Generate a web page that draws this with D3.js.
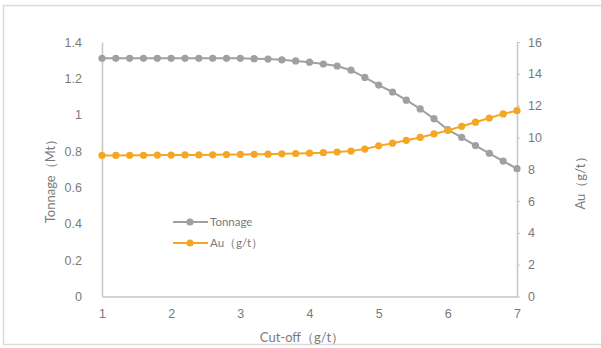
<!DOCTYPE html>
<html><head><meta charset="utf-8">
<script src="https://cdn.jsdelivr.net/npm/d3@7/dist/d3.min.js"></script>
<style>
body{margin:0;background:#fff;}
svg{display:block;font-family:Lato, "Liberation Sans", sans-serif;}
</style></head><body>
<svg id="c" width="601" height="348"></svg>
<script>
const cutoff = [1.0,1.2,1.4,1.6,1.8,2.0,2.2,2.4,2.6,2.8,3.0,3.2,3.4,3.6,3.8,4.0,4.2,4.4,4.6,4.8,5.0,5.2,5.4,5.6,5.8,6.0,6.2,6.4,6.6,6.8,7.0];
const tonnage = [1.31,1.31,1.31,1.31,1.31,1.31,1.31,1.31,1.31,1.31,1.31,1.308,1.306,1.302,1.296,1.289,1.279,1.268,1.245,1.205,1.163,1.125,1.08,1.032,0.978,0.918,0.875,0.83,0.788,0.745,0.703];
const au = [8.87,8.87,8.88,8.88,8.89,8.89,8.90,8.90,8.91,8.92,8.93,8.94,8.95,8.97,8.99,9.01,9.04,9.08,9.14,9.27,9.47,9.64,9.82,10.0,10.22,10.44,10.7,10.96,11.22,11.48,11.68];
const xTicks = [1,2,3,4,5,6,7];
const leftTicks = [0,0.2,0.4,0.6,0.8,1,1.2,1.4];
const rightTicks = [0,2,4,6,8,10,12,14,16];
const seriesNames = ["Tonnage","Au（g/t）"];
const xTitle = "Cut-off（g/t）", yLeftTitle = "Tonnage（Mt）", yRightTitle = "Au（g/t）";

const svg = d3.select("#c");
const grayC = "#a0a0a0", orangeC = "#f4a725", axisC = "#c9c5c5", textC = "#7a7a7a";
const L = 102, R = 517, T = 42, B = 296.5;

svg.append("rect").attr("x",3.5).attr("y",5.5).attr("width",640).attr("height",339)
  .attr("fill","#fff").attr("stroke","#dcdcdc").attr("stroke-width",1.5);

const x = d3.scaleLinear().domain([1,7]).range([L,R]);
const yL = d3.scaleLinear().domain([0,1.4]).range([B,T]);
const yR = d3.scaleLinear().domain([0,16]).range([B,T]);

function style(g){
  g.selectAll(".domain").attr("stroke",axisC).attr("stroke-width",1.5);
  g.selectAll(".tick line").attr("stroke",axisC);
  g.selectAll("text").attr("fill",textC).style("font-size","12.5px");
}
svg.append("g").attr("transform",`translate(0,${B})`)
  .call(d3.axisBottom(x).tickValues(xTicks).tickSize(0).tickPadding(13).tickFormat(d3.format("d")).tickSizeOuter(0)).call(style);
svg.append("g").attr("transform",`translate(${L},0)`)
  .call(d3.axisLeft(yL).tickValues(leftTicks).tickSize(0).tickPadding(20).tickFormat(d=>String(+d.toFixed(1))).tickSizeOuter(0)).call(style);
svg.append("g").attr("transform",`translate(${R},0)`)
  .call(d3.axisRight(yR).tickValues(rightTicks).tickSize(3).tickPadding(8).tickSizeOuter(0)).call(style);

const lineT = d3.line().x((d,i)=>x(cutoff[i])).y(d=>yL(d));
const lineA = d3.line().x((d,i)=>x(cutoff[i])).y(d=>yR(d));

svg.append("path").attr("d",lineT(tonnage)).attr("fill","none").attr("stroke",grayC).attr("stroke-width",2);
svg.append("g").selectAll("circle").data(tonnage).join("circle")
  .attr("cx",(d,i)=>x(cutoff[i])).attr("cy",d=>yL(d)).attr("r",3.6).attr("fill",grayC);
svg.append("path").attr("d",lineA(au)).attr("fill","none").attr("stroke",orangeC).attr("stroke-width",2);
svg.append("g").selectAll("circle").data(au).join("circle")
  .attr("cx",(d,i)=>x(cutoff[i])).attr("cy",d=>yR(d)).attr("r",3.6).attr("fill",orangeC);

// legend
const leg = svg.append("g");
[[grayC,222],[orangeC,243]].forEach((c,i)=>{
  leg.append("line").attr("x1",173).attr("x2",208).attr("y1",c[1]).attr("y2",c[1]).attr("stroke",c[0]).attr("stroke-width",2);
  leg.append("circle").attr("cx",190).attr("cy",c[1]).attr("r",3.6).attr("fill",c[0]);
  leg.append("text").attr("x",210).attr("y",c[1]+4).attr("fill",textC).style("font-size","11.5px").text(seriesNames[i]);
});

svg.append("text").attr("x",302).attr("y",342).attr("text-anchor","middle").attr("fill",textC).style("font-size","13px").text(xTitle);
svg.append("text").attr("transform","translate(55,178) rotate(-90)").attr("text-anchor","middle").attr("fill",textC).style("font-size","13px").text(yLeftTitle);
svg.append("text").attr("transform","translate(585,180) rotate(-90)").attr("text-anchor","middle").attr("fill",textC).style("font-size","13px").text(yRightTitle);
</script>
</body></html>
